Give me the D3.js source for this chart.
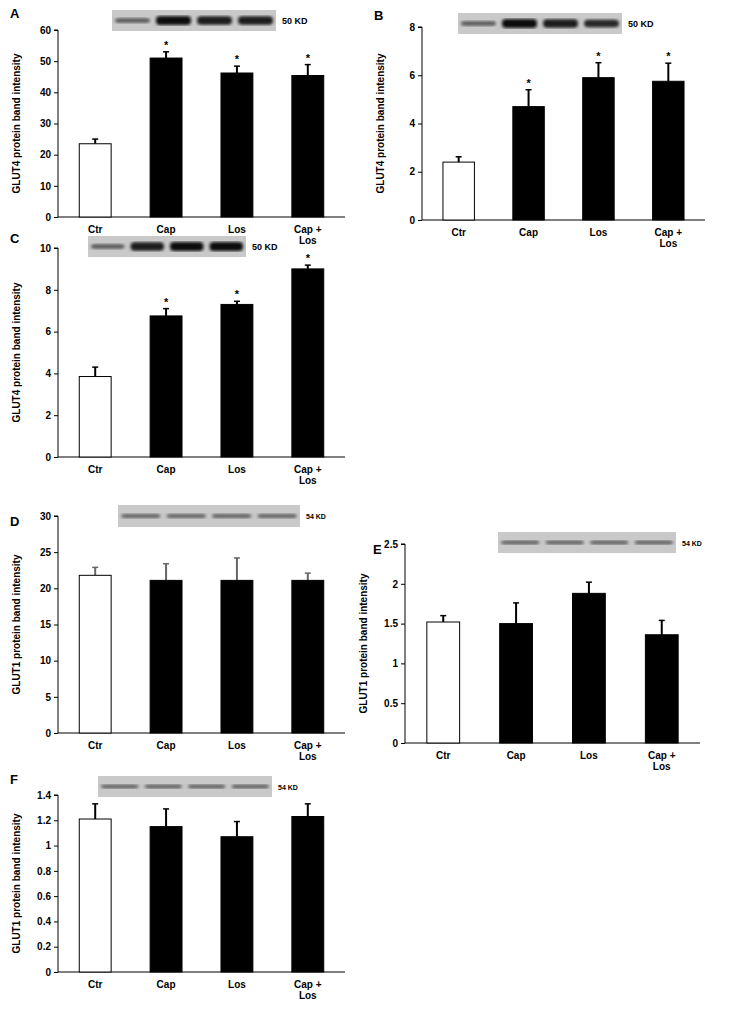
<!DOCTYPE html><html><head><meta charset="utf-8">
<script src="https://cdn.jsdelivr.net/npm/d3@7/dist/d3.min.js"></script>
<style>body{margin:0;background:#fff}text{font-family:Arial,"Liberation Sans",sans-serif;font-weight:bold}</style></head><body>
<svg id="c" width="734" height="1011"></svg>
<script>
const categories=["Ctr","Cap","Los","Cap +\nLos"];
const valsA=[23.5,51,46.2,45.4], errA=[1.5,2,2.2,3.5];
const valsB=[2.4,4.7,5.9,5.75], errB=[0.22,0.7,0.62,0.75];
const valsC=[3.85,6.75,7.3,9.0], errC=[0.45,0.35,0.15,0.18];
const valsD=[21.8,21.1,21.1,21.1], errD=[1.1,2.3,3.1,1.0];
const valsE=[1.52,1.5,1.88,1.36], errE=[0.08,0.26,0.14,0.18];
const valsF=[1.21,1.15,1.07,1.23], errF=[0.12,0.14,0.12,0.1];
const ticksA=[0,10,20,30,40,50,60], ticksB=[0,2,4,6,8], ticksC=[0,2,4,6,8,10];
const ticksD=[0,5,10,15,20,25,30], ticksE=[0,0.5,1,1.5,2,2.5], ticksF=[0,0.2,0.4,0.6,0.8,1,1.2,1.4];
const starsA=[0,1,1,1], starsD=[0,0,0,0];
const svg=d3.select("#c");
const defs=svg.append("defs");
defs.append("filter").attr("id","bl").append("feGaussianBlur").attr("stdDeviation",1.6);
const shade=d3.interpolateRgb("#9a9a9a","#111");
function panel(o){
  const g=svg.append("g");
  const y=d3.scaleLinear().domain([0,o.max]).range([o.y1,o.y0]);
  const x=d3.scaleBand().domain(categories).range([o.x0,o.x1]).paddingInner(0.55).paddingOuter(0.3);
  g.append("text").attr("x",o.lx).attr("y",o.ly).attr("font-size",13).text(o.letter);
  const b=o.blot;
  g.append("rect").attr("x",b[0]).attr("y",b[1]).attr("width",b[2]).attr("height",b[3]).attr("fill","#c9c9c9");
  const bw=b[2]/4;
  o.bands.forEach((s,i)=>{
    g.append("rect").attr("x",b[0]+i*bw+3).attr("y",b[1]+b[3]/2-b[3]*0.18*s).attr("width",bw-6).attr("height",b[3]*0.36*s)
     .attr("rx",4).attr("fill",shade(Math.min(s,1.2)/1.2)).attr("filter","url(#bl)");
  });
  g.append("text").attr("x",b[0]+b[2]+6).attr("y",b[1]+b[3]/2+3).attr("font-size",o.kdSize).text(o.kd);
  const ax=g.append("g").attr("transform",`translate(${o.x0},0)`).call(d3.axisLeft(y).tickValues(o.ticks).tickSize(4).tickFormat(d=>String(d)));
  ax.selectAll("text").attr("font-size",10).attr("font-family","Arial").attr("font-weight","bold").attr("fill","#000");
  ax.select(".domain").attr("d",`M-4,${o.y0}H0V${o.y1}`);
  g.append("line").attr("x1",o.x0).attr("x2",o.x1).attr("y1",o.y1).attr("y2",o.y1).attr("stroke","#000");
  categories.forEach((c,i)=>{
    const xx=x(c),w=x.bandwidth(),v=o.vals[i],e=o.errs[i];
    g.append("line").attr("x1",xx+w/2).attr("x2",xx+w/2).attr("y1",y(v)).attr("y2",y(v+e)).attr("stroke",o.errCol).attr("stroke-width",2);
    g.append("line").attr("x1",xx+w/2-3).attr("x2",xx+w/2+3).attr("y1",y(v+e)).attr("y2",y(v+e)).attr("stroke",o.errCol).attr("stroke-width",1.5);
    g.append("rect").attr("x",xx).attr("y",y(v)).attr("width",w).attr("height",o.y1-y(v)).attr("fill",i?"#000":"#fff").attr("stroke","#000");
    if(o.stars[i]) g.append("text").attr("x",xx+w/2).attr("y",y(v+e)-3).attr("text-anchor","middle").attr("font-size",11).attr("font-weight","normal").text("*");
    const t=g.append("text").attr("x",xx+w/2).attr("y",o.y1+16).attr("text-anchor","middle").attr("font-size",10);
    c.split("\n").forEach((s,j)=>t.append("tspan").attr("x",xx+w/2).attr("dy",j?11:0).text(s));
  });
  g.append("text").attr("transform",`translate(${o.x0-38},${(o.y0+o.y1)/2}) rotate(-90)`).attr("text-anchor","middle").attr("font-size",10).text(o.title);
}
const T4="GLUT4 protein band intensity",T1="GLUT1 protein band intensity";
panel({letter:"A",lx:10,ly:18,x0:58,x1:345,y0:30,y1:217,max:60,ticks:ticksA,vals:valsA,errs:errA,stars:starsA,title:T4,blot:[112,10,164,21],bands:[0.6,1.2,1.1,1.1],kd:"50 KD",kdSize:9,errCol:"#000"});
panel({letter:"B",lx:374,ly:20,x0:422,x1:705,y0:27,y1:220,max:8,ticks:ticksB,vals:valsB,errs:errB,stars:starsA,title:T4,blot:[458,13,164,21],bands:[0.6,1.2,1.1,1.0],kd:"50 KD",kdSize:9,errCol:"#000"});
panel({letter:"C",lx:10,ly:243,x0:58,x1:345,y0:248,y1:457,max:10,ticks:ticksC,vals:valsC,errs:errC,stars:starsA,title:T4,blot:[88,236,158,21],bands:[0.6,1.1,1.2,1.2],kd:"50 KD",kdSize:9,errCol:"#000"});
panel({letter:"D",lx:10,ly:526,x0:58,x1:345,y0:516,y1:733,max:30,ticks:ticksD,vals:valsD,errs:errD,stars:starsD,title:T1,blot:[118,505,182,22],bands:[0.5,0.5,0.5,0.5],kd:"54 KD",kdSize:7,errCol:"#666"});
panel({letter:"E",lx:373,ly:554,x0:405,x1:700,y0:544,y1:743,max:2.5,ticks:ticksE,vals:valsE,errs:errE,stars:starsD,title:T1,blot:[498,532,178,21],bands:[0.5,0.5,0.5,0.5],kd:"54 KD",kdSize:7,errCol:"#000"});
panel({letter:"F",lx:10,ly:784,x0:58,x1:345,y0:795,y1:972,max:1.4,ticks:ticksF,vals:valsF,errs:errF,stars:starsD,title:T1,blot:[98,776,174,21],bands:[0.5,0.5,0.5,0.5],kd:"54 KD",kdSize:7,errCol:"#000"});
</script></body></html>
